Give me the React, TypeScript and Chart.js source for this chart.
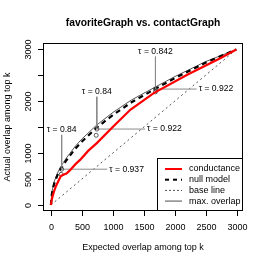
import React, { useEffect, useRef } from "react";
import { Chart, registerables } from "chart.js";
Chart.register(...registerables);

const title = "favoriteGraph vs. contactGraph";
const xTitle = "Expected overlap among top k";
const yTitle = "Actual overlap among top k";

const condX = [0, 10, 25, 50, 80, 120, 160, 200, 250, 300, 400, 470, 600, 740, 1005, 1280, 1658, 2199, 2739, 2990];
const condY = [0, 80, 160, 260, 360, 460, 555, 580, 605, 660, 790, 867, 1040, 1189, 1509, 1830, 2152, 2505, 2826, 2990];

const modelX = [0, 10, 25, 50, 100, 150, 173, 200, 250, 300, 400, 500, 740, 1000, 1300, 1686, 2000, 2500, 2990];
const nullY = [0, 170, 280, 400, 560, 680, 720, 770, 860, 940, 1090, 1220, 1490, 1730, 1975, 2235, 2440, 2740, 2990];
const maxY = [0, 190, 310, 440, 600, 720, 765, 815, 905, 985, 1140, 1270, 1540, 1780, 2020, 2270, 2470, 2760, 2990];

const baseX = [0, 2990];
const baseY = [0, 2990];

const annK = [173, 740, 1686];
const annCornerY = [688, 1460, 2229];
const annTopY = [1349, 2081, 2852];
const annRightX = [908, 1518, 2350];
const annTopLabel = ["τ = 0.84", "τ = 0.84", "τ = 0.842"];
const annRightLabel = ["τ = 0.937", "τ = 0.922", "τ = 0.922"];

const markX = [173, 165, 740, 730, 1686, 1686];
const markY = [688, 590, 1460, 1340, 2229, 2175];

const xTicks = [0, 500, 1000, 1500, 2000, 2500, 3000];
const xTickLabels = ["0", "500", "1000", "1500", "2000", "2500", "3000"];
const yTicks = [0, 500, 1000, 1500, 2000, 2500, 3000];
const yTickLabels = ["0", "500", "1000", "", "2000", "", "3000"];

const legendLabels = ["conductance", "null model", "base line", "max. overlap"];

const FONT = '"Liberation Sans", Arial, Helvetica, sans-serif';

const pts = (xs: number[], ys: number[]) => xs.map((x, i) => ({ x, y: ys[i] }));

const rPlugin = {
  id: "rStyle",
  afterDraw(chart: any) {
    const { ctx, chartArea, scales } = chart;
    const { left, right, top, bottom } = chartArea;
    const xs = scales.x;
    const ys = scales.y;
    ctx.save();
    // box
    ctx.strokeStyle = "#000";
    ctx.lineWidth = 1;
    ctx.setLineDash([]);
    ctx.strokeRect(Math.round(left) + 0.5, Math.round(top) + 0.5, Math.round(right - left) - 1, Math.round(bottom - top) - 1);

    // x ticks
    ctx.fillStyle = "#000";
    ctx.font = `9px ${FONT}`;
    ctx.textAlign = "center";
    ctx.textBaseline = "middle";
    xTicks.forEach((v, i) => {
      const px = Math.round(xs.getPixelForValue(v)) + 0.5;
      ctx.beginPath();
      ctx.moveTo(px, bottom - 0.5);
      ctx.lineTo(px, bottom + 5);
      ctx.stroke();
      ctx.fillText(xTickLabels[i], px, bottom + 17);
    });
    // y ticks
    yTicks.forEach((v, i) => {
      const py = Math.round(ys.getPixelForValue(v)) + 0.5;
      ctx.beginPath();
      ctx.moveTo(left + 0.5, py);
      ctx.lineTo(left - 5, py);
      ctx.stroke();
      if (yTickLabels[i]) {
        ctx.save();
        ctx.translate(left - 14, py);
        ctx.rotate(-Math.PI / 2);
        ctx.fillText(yTickLabels[i], 0, 0);
        ctx.restore();
      }
    });

    // titles
    ctx.font = `bold 10.3px ${FONT}`;
    ctx.fillText(title, (left + right) / 2, 23);
    ctx.font = `9px ${FONT}`;
    ctx.fillText(xTitle, (left + right) / 2, bottom + 37);
    ctx.save();
    ctx.translate(8, (top + bottom) / 2);
    ctx.rotate(-Math.PI / 2);
    ctx.fillText(yTitle, 0, 0);
    ctx.restore();

    // annotation labels
    ctx.font = `8.6px ${FONT}`;
    annK.forEach((k, i) => {
      const px = xs.getPixelForValue(k);
      const pyTop = ys.getPixelForValue(annTopY[i]);
      ctx.textAlign = "center";
      ctx.fillText(annTopLabel[i], px, pyTop - 5);
      const pxR = xs.getPixelForValue(annRightX[i]);
      const pyC = ys.getPixelForValue(annCornerY[i]);
      ctx.textAlign = "left";
      ctx.fillText(annRightLabel[i], pxR + 2, pyC);
    });

    // legend
    const lx0 = 157.5, ly0 = 158.5, lx1 = right - 0.5, ly1 = bottom - 0.5;
    ctx.fillStyle = "#fff";
    ctx.fillRect(lx0, ly0, lx1 - lx0, ly1 - ly0);
    ctx.strokeStyle = "#000";
    ctx.lineWidth = 1;
    ctx.strokeRect(lx0, ly0, lx1 - lx0, ly1 - ly0);
    const styles = [
      { c: "#ff0000", w: 2, d: [] as number[] },
      { c: "#000", w: 2, d: [4, 4] },
      { c: "#555", w: 1, d: [2, 2] },
      { c: "#888", w: 1.5, d: [] as number[] },
    ];
    legendLabels.forEach((lab, i) => {
      const yy = 169 + i * 10.7;
      ctx.strokeStyle = styles[i].c;
      ctx.lineWidth = styles[i].w;
      ctx.setLineDash(styles[i].d);
      ctx.beginPath();
      ctx.moveTo(165, yy);
      ctx.lineTo(182, yy);
      ctx.stroke();
      ctx.setLineDash([]);
      ctx.fillStyle = "#000";
      ctx.font = `9px ${FONT}`;
      ctx.textAlign = "left";
      ctx.fillText(lab, 189, yy);
    });
    ctx.restore();
  },
};

export default function App() {
  const ref = useRef<HTMLCanvasElement | null>(null);
  useEffect(() => {
    document.body.style.margin = "0";
    const annData = annK.map((k, i) => [
      { x: k, y: annTopY[i] },
      { x: k, y: annCornerY[i] },
      { x: annRightX[i], y: annCornerY[i] },
    ]);
    const chart = new Chart(ref.current as HTMLCanvasElement, {
      type: "line",
      data: {
        datasets: [
          {
            label: "conductance",
            data: pts(condX, condY),
            borderColor: "#ff0000",
            borderWidth: 2.2,
            pointRadius: 0,
            tension: 0,
          },
          {
            label: "marks",
            data: pts(markX, markY),
            showLine: false,
            pointRadius: 2,
            pointBorderColor: "#333",
            pointBackgroundColor: "rgba(0,0,0,0)",
            pointBorderWidth: 0.8,
          },
          ...annData.map((d, i) => ({
            label: "ann" + i,
            data: d,
            borderColor: "#8a8a8a",
            borderWidth: 1,
            pointRadius: 0,
            tension: 0,
          })),
          {
            label: "null model",
            data: pts(modelX, nullY),
            borderColor: "#000",
            borderWidth: 2.2,
            borderDash: [5, 4],
            pointRadius: 0,
            tension: 0,
          },
          {
            label: "max. overlap",
            data: pts(modelX, maxY),
            borderColor: "#555",
            borderWidth: 1,
            pointRadius: 0,
            tension: 0,
          },
          {
            label: "base line",
            data: pts(baseX, baseY),
            borderColor: "#555",
            borderWidth: 1,
            borderDash: [2, 3],
            pointRadius: 0,
          },
        ],
      },
      options: {
        animation: false,
        responsive: false,
        devicePixelRatio: 1,
        layout: { padding: { left: 43, top: 43, right: 23, bottom: 55 } },
        plugins: { legend: { display: false }, tooltip: { enabled: false } },
        scales: {
          x: { type: "linear", min: -128, max: 3098, display: false },
          y: { type: "linear", min: -116, max: 3115, display: false },
        },
      },
      plugins: [rPlugin],
    } as any);
    return () => chart.destroy();
  }, []);
  return (
    <div style={{ width: 266, height: 266, background: "#fff" }}>
      <canvas ref={ref} width={266} height={266} style={{ display: "block" }} />
    </div>
  );
}
